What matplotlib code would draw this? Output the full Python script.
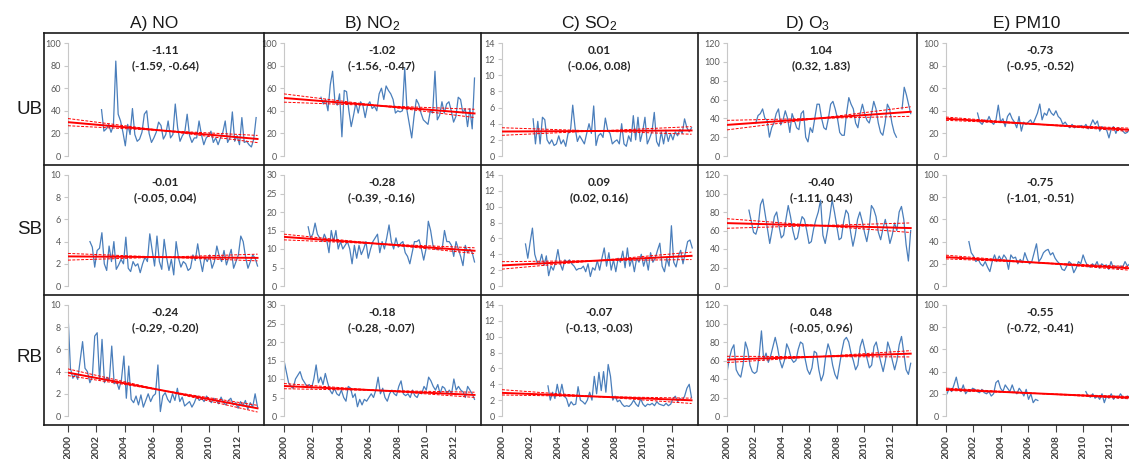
import numpy as np
import matplotlib
matplotlib.use("Agg")
import matplotlib.pyplot as plt
from matplotlib.lines import Line2D

plt.rcParams["font.family"] = ["Liberation Sans", "DejaVu Sans"]
plt.rcParams["mathtext.fontset"] = "custom"
plt.rcParams["mathtext.rm"] = "Liberation Sans"
plt.rcParams["mathtext.default"] = "regular"

# ---- data (monthly-ish means) ----
pollutants = ["A) NO", r"B) NO$_2$", r"C) SO$_2$", r"D) O$_3$", "E) PM10"]
sites = ["UB", "SB", "RB"]

# y-axis maximum and tick step per site row x pollutant column
y_max = [[100, 100, 14, 120, 100],
         [10, 30, 14, 120, 100],
         [10, 30, 14, 120, 100]]
y_step = [[20, 20, 2, 20, 20],
          [2, 5, 2, 20, 20],
          [2, 5, 2, 20, 20]]

# Theil-Sen slope (units/year) with 95% interval
slope = [[-1.11, -1.02, 0.01, 1.04, -0.73],
         [-0.01, -0.28, 0.09, -0.40, -0.75],
         [-0.24, -0.18, -0.07, 0.48, -0.55]]
slope_lo = [[-1.59, -1.56, -0.06, 0.32, -0.95],
            [-0.05, -0.39, 0.02, -1.11, -1.01],
            [-0.29, -0.28, -0.13, -0.05, -0.72]]
slope_hi = [[-0.64, -0.47, 0.08, 1.83, -0.52],
            [0.04, -0.16, 0.16, 0.43, -0.51],
            [-0.20, -0.07, -0.03, 0.96, -0.41]]
# trend value at the middle of the trend period
trend_mid = [[22.5, 44.5, 3.1, 40.0, 28.1],
             [2.6, 11.4, 3.2, 65.3, 21.0],
             [2.3, 6.9, 2.45, 64.2, 20.3]]
trend_span = (2000.0, 2013.4)

no_ub_span = (2002.37, 2013.3)
no_ub = [41, 22, 24, 28, 21, 27, 84, 37, 31, 21, 9, 28, 19, 42, 19, 13, 15, 21, 37, 40,
         20, 12, 16, 21, 30, 27, 15, 19, 31, 16, 19, 46, 25, 13, 18, 21, 37, 18, 12, 16,
         16, 31, 19, 10, 16, 18, 22, 12, 16, 10, 16, 21, 31, 12, 16, 39, 13, 18, 10, 34,
         12, 13, 10, 8, 15, 34]
no_sb_span = (2001.55, 2013.4)
no_sb = [4.0, 3.5, 1.7, 3.2, 3.4, 4.8, 2.0, 1.4, 3.6, 2.2, 4.0, 1.5, 1.9, 2.4, 2.0, 4.4,
         1.6, 1.3, 2.2, 1.8, 2.0, 1.2, 2.0, 2.6, 2.2, 4.7, 3.2, 1.8, 4.5, 2.2, 1.5, 4.2,
         2.6, 1.4, 2.4, 1.0, 4.0, 2.5, 1.7, 2.2, 2.0, 1.4, 1.6, 2.8, 2.3, 3.8, 2.4, 1.3,
         2.6, 2.2, 2.8, 1.6, 2.2, 3.6, 2.7, 2.2, 3.2, 1.9, 2.6, 3.3, 1.6, 2.2, 2.8, 4.5,
         4.0, 2.6, 1.6, 2.2, 2.8, 2.5, 1.8]
no_rb_span = (2000.0, 2013.4)
no_rb = [9.2, 4.3, 3.4, 3.8, 3.3, 5.0, 6.7, 4.3, 4.0, 3.0, 3.5, 7.2, 7.5, 3.2, 6.9, 3.0,
         3.5, 3.2, 6.3, 2.9, 3.1, 2.4, 3.3, 5.4, 1.6, 4.5, 1.5, 1.2, 1.8, 1.0, 1.9, 0.8,
         1.4, 2.0, 1.3, 1.8, 2.0, 4.6, 0.4, 1.8, 2.1, 1.5, 1.2, 2.0, 1.4, 2.5, 1.3, 1.7,
         0.9, 1.1, 1.3, 0.8, 1.2, 1.8, 1.4, 1.6, 1.3, 1.8, 1.5, 1.2, 1.6, 1.4, 1.1, 1.7,
         1.2, 1.0, 1.4, 1.6, 1.0, 1.2, 0.7, 1.3, 0.9, 1.4, 0.6, 1.2, 0.8, 2.0, 0.8]

no2_ub_span = (2002.6, 2013.4)
no2_ub = [52, 46, 50, 40, 63, 75, 48, 45, 55, 17, 58, 57, 40, 26, 36, 47, 38, 48, 45, 34,
          45, 48, 42, 44, 40, 55, 60, 50, 62, 58, 55, 50, 38, 40, 39, 40, 78, 40, 28, 16,
          35, 50, 46, 38, 32, 30, 28, 40, 38, 75, 32, 36, 48, 38, 46, 48, 40, 30, 35, 52,
          50, 38, 42, 26, 42, 24, 69]
no2_sb_span = (2001.7, 2013.4)
no2_sb = [16, 13, 14, 17, 14, 13, 12, 14, 12.5, 9, 15, 12, 15, 10, 12, 10, 11, 12, 10, 6,
          11, 7.5, 11, 8.5, 10, 12, 7.5, 10, 12, 13, 14, 9, 12, 10, 13, 16.5, 12, 10, 13,
          10.5, 11.5, 12, 9, 8, 6, 9, 12, 12, 12.5, 10, 7, 10, 17.5, 15, 11, 10, 10, 10,
          10, 15, 12, 12, 11, 8, 12, 10, 8, 5.5, 11, 9, 10, 9, 6.5]
no2_rb_span = (2000.0, 2013.4)
no2_rb = [15, 12, 9, 8, 7.5, 10, 11, 12, 10, 9, 8, 8.5, 7.5, 10, 13.8, 9, 10.5, 8.5, 11.5,
          9, 7, 6, 7.5, 6, 5.5, 7, 5, 4, 8, 7.5, 5, 6, 2.5, 4.5, 3, 4.5, 4, 5, 6, 5, 7,
          10.5, 6, 7.5, 5, 4, 6, 7, 6, 5.5, 8, 9.5, 6, 5.5, 6, 5, 7, 5.5, 5, 6.5, 6, 8, 7,
          10.5, 9.5, 8, 7, 8.5, 6, 8, 7.5, 6, 7, 6, 10, 7, 8, 7, 6.5, 5, 8, 7, 6, 4.5]

so2_ub_span = (2002.2, 2013.4)
so2_ub = [4.6, 1.5, 4.3, 1.5, 4.8, 4.5, 2.0, 1.5, 2.0, 1.3, 1.5, 2.5, 1.5, 2.0, 1.2, 2.8,
          3.0, 6.3, 3.5, 1.8, 2.5, 2.0, 1.5, 2.8, 4.0, 2.8, 6.2, 1.3, 2.5, 2.8, 2.3, 4.7,
          3.2, 2.8, 1.5, 1.8, 2.0, 1.5, 4.0, 1.5, 1.2, 2.5, 1.8, 5.0, 2.0, 4.8, 1.8, 3.0,
          4.8, 1.5, 2.2, 3.0, 5.4, 1.8, 1.2, 3.0, 1.5, 3.2, 1.8, 2.8, 2.0, 3.0, 2.5, 3.3,
          2.8, 4.6, 3.5, 3.0, 3.5]
so2_sb_span = (2001.66, 2013.45)
so2_sb = [5.3, 3.5, 5.5, 7.3, 4.0, 3.0, 2.8, 4.0, 2.6, 3.8, 1.3, 2.5, 2.0, 3.0, 4.6, 2.8,
          2.0, 3.3, 3.0, 3.3, 2.8, 2.5, 2.0, 2.2, 2.2, 2.5, 1.8, 2.8, 1.2, 2.3, 2.0, 3.2,
          2.0, 3.5, 4.8, 2.5, 4.2, 2.0, 3.3, 1.8, 3.5, 3.0, 4.4, 2.3, 4.8, 2.5, 3.5, 1.8,
          3.5, 3.0, 4.0, 2.5, 3.6, 2.0, 4.2, 3.0, 3.5, 4.5, 5.4, 2.5, 1.8, 3.5, 2.5, 7.6,
          3.0, 2.4, 3.8, 4.5, 2.8, 4.2, 5.6, 5.8, 4.8]
so2_rb_span = (2003.25, 2013.4)
so2_rb = [3.8, 2.0, 3.0, 2.2, 4.0, 2.5, 4.0, 2.5, 2.2, 1.2, 1.8, 1.4, 1.5, 3.7, 2.0, 1.8,
          1.5, 2.0, 3.0, 2.0, 5.0, 2.8, 5.5, 3.2, 5.6, 3.0, 6.5, 5.0, 2.0, 2.5, 1.8, 2.0,
          1.5, 1.2, 1.3, 1.2, 1.5, 2.0, 1.5, 1.2, 2.2, 1.5, 1.2, 1.5, 1.4, 1.6, 1.3, 1.8,
          1.5, 1.4, 1.3, 1.6, 1.3, 1.5, 2.2, 2.5, 1.8, 2.2, 2.0, 2.5, 3.5, 4.0, 2.3]

o3_ub_span = (2002.1, 2012.36)
o3_ub = [35, 43, 45, 50, 40, 38, 20, 30, 35, 45, 50, 33, 38, 48, 40, 25, 45, 38, 30, 28,
         45, 48, 20, 15, 30, 25, 40, 55, 55, 40, 30, 28, 40, 55, 58, 50, 40, 25, 22, 22,
         45, 62, 55, 50, 35, 30, 45, 55, 45, 38, 35, 45, 58, 50, 35, 25, 22, 35, 55, 50,
         35, 25, 20]
o3_ub_end_span = (2012.77, 2013.4)
o3_ub_end = [50, 73, 65, 55, 45]
o3_sb_span = (2001.6, 2013.4)
o3_sb = [82, 70, 58, 56, 65, 88, 94, 78, 62, 46, 60, 75, 80, 65, 52, 55, 72, 87, 75, 60,
         50, 52, 65, 75, 72, 60, 46, 48, 62, 72, 80, 93, 55, 46, 60, 75, 93, 80, 65, 50,
         52, 70, 82, 78, 58, 43, 55, 72, 80, 70, 58, 48, 62, 87, 83, 75, 58, 50, 62, 72,
         60, 46, 55, 68, 60, 80, 86, 72, 45, 27, 60]
o3_rb_span = (2000.0, 2013.4)
o3_rb = [47, 62, 72, 77, 50, 45, 42, 55, 80, 72, 55, 48, 46, 48, 65, 92, 60, 68, 58, 65,
         75, 85, 74, 60, 52, 60, 78, 72, 62, 58, 60, 72, 80, 78, 62, 50, 45, 52, 70, 68,
         50, 38, 45, 65, 78, 70, 55, 45, 40, 55, 70, 82, 85, 80, 68, 60, 50, 55, 75, 83,
         72, 62, 52, 55, 75, 80, 68, 58, 48, 60, 80, 72, 60, 50, 60, 77, 86, 68, 50, 45, 57]

pm10_ub_span = (2002.3, 2013.4)
pm10_ub = [38, 30, 28, 32, 30, 35, 30, 28, 32, 45, 30, 33, 26, 35, 38, 33, 30, 25, 35, 22,
           30, 28, 30, 32, 28, 33, 38, 46, 32, 38, 36, 42, 38, 36, 40, 35, 33, 28, 30, 27,
           25, 28, 25, 26, 26, 27, 25, 28, 24, 27, 32, 28, 31, 22, 26, 24, 23, 16, 24, 26,
           20, 25, 24, 22, 20, 21, 24]
pm10_sb_span = (2001.67, 2013.4)
pm10_sb = [40, 30, 27, 22, 24, 20, 18, 22, 17, 13, 22, 28, 22, 27, 23, 28, 25, 15, 28, 25,
           26, 20, 24, 21, 30, 24, 20, 22, 30, 38, 22, 25, 30, 32, 33, 28, 30, 25, 22, 20,
           15, 14, 18, 22, 20, 12, 16, 22, 20, 28, 22, 18, 17, 20, 18, 22, 16, 20, 18, 19,
           15, 22, 16, 18, 15, 18, 17, 22, 18, 20]
pm10_rb_span = (2000.07, 2006.7)
pm10_rb = [20, 25, 22, 28, 35, 25, 22, 28, 20, 23, 22, 25, 24, 22, 21, 24, 21, 20, 22, 18,
           20, 30, 32, 25, 22, 28, 25, 22, 28, 22, 20, 25, 22, 18, 24, 15, 20, 12, 15, 14]
pm10_rb_end_span = (2010.2, 2013.4)
pm10_rb_end = [22, 18, 17, 20, 16, 18, 15, 20, 12, 18, 16, 20, 15, 18, 16, 20, 17, 16, 18, 17]

series = {
    (0, 0): [(no_ub_span, no_ub)], (1, 0): [(no_sb_span, no_sb)], (2, 0): [(no_rb_span, no_rb)],
    (0, 1): [(no2_ub_span, no2_ub)], (1, 1): [(no2_sb_span, no2_sb)], (2, 1): [(no2_rb_span, no2_rb)],
    (0, 2): [(so2_ub_span, so2_ub)], (1, 2): [(so2_sb_span, so2_sb)], (2, 2): [(so2_rb_span, so2_rb)],
    (0, 3): [(o3_ub_span, o3_ub), (o3_ub_end_span, o3_ub_end)],
    (1, 3): [(o3_sb_span, o3_sb)], (2, 3): [(o3_rb_span, o3_rb)],
    (0, 4): [(pm10_ub_span, pm10_ub)], (1, 4): [(pm10_sb_span, pm10_sb)],
    (2, 4): [(pm10_rb_span, pm10_rb), (pm10_rb_end_span, pm10_rb_end)],
}

# ---- layout (pixels) ----
W, H = 1129, 459
col_edges = [44, 264, 481, 698, 917, 1136]
row_edges = [33, 165, 295, 425]
axis_x = [68, 284, 502, 727, 946]
pad_top, pad_bot = 10, 9
px2pt = 0.72

fig = plt.figure(figsize=(W / 100, H / 100), dpi=100)


def fx(px):
    return px / W


def fy(py):
    return 1 - py / H


BLUE = "#4a7ebb"
RED = "#ff0000"

for r in range(3):
    for c in range(5):
        left, right = axis_x[c], col_edges[c + 1] - 1.5
        top, bot = row_edges[r], row_edges[r + 1]
        ax = fig.add_axes([fx(left), fy(bot), (right - left) / W, (bot - top) / H])
        ax.set_facecolor("none")
        ymax = y_max[r][c]
        u = ymax / (bot - top - pad_top - pad_bot)
        ax.set_ylim(-pad_bot * u, ymax + pad_top * u)
        ax.set_xlim(2000, 2013.75)

        for (t0, t1), vals in series[(r, c)]:
            t = np.linspace(t0, t1, len(vals))
            ax.plot(t, vals, color=BLUE, lw=0.9, zorder=2)

        tx = np.array(trend_span)
        pivot = tx.mean()
        for s in (slope_lo[r][c], slope_hi[r][c]):
            ax.plot(tx, trend_mid[r][c] + s * (tx - pivot), color=RED, lw=0.7,
                    ls=(0, (3, 1.5)), zorder=3)
        ax.plot(tx, trend_mid[r][c] + slope[r][c] * (tx - pivot), color=RED, lw=1.4, zorder=4)

        for side in ("top", "right", "bottom"):
            ax.spines[side].set_visible(False)
        ax.spines["left"].set_color("#c8c8c8")
        ax.spines["left"].set_linewidth(0.8)
        ax.spines["left"].set_bounds(0, ymax)
        ax.set_yticks(np.arange(0, ymax + y_step[r][c] / 2, y_step[r][c]))
        ax.tick_params(axis="y", length=3, width=0.8, color="#c8c8c8", pad=2,
                       labelsize=6.5, labelcolor="#595959")
        for lab in ax.get_yticklabels():
            lab.set_family("Lato")

        if r == 2:
            ax.set_xticks(range(2000, 2013, 2))
            ax.tick_params(axis="x", length=5, width=0.8, color="#404040", pad=2,
                           labelsize=7.5, labelcolor="#404040", labelrotation=90)
            for lab in ax.get_xticklabels():
                lab.set_family("Lato")
                lab.set_fontweight("bold")
        else:
            ax.set_xticks([])

        ax.annotate(f"{slope[r][c]:.2f}", xy=(0.5, 1), xycoords="axes fraction",
                    xytext=(0, -17.5 * px2pt), textcoords="offset points",
                    ha="center", va="center", fontsize=8.5, fontweight="bold",
                    family="Lato", color="#262626")
        ax.annotate(f"({slope_lo[r][c]:.2f}, {slope_hi[r][c]:.2f})", xy=(0.5, 1),
                    xycoords="axes fraction", xytext=(0, -32.5 * px2pt),
                    textcoords="offset points", ha="center", va="center",
                    fontsize=8.5, fontweight="bold", family="Lato", color="#262626")

# panel grid
for y in row_edges:
    fig.add_artist(Line2D([fx(col_edges[0]), 1], [fy(y), fy(y)], color="#1a1a1a",
                          lw=1.2, transform=fig.transFigure))
for x in col_edges[:5]:
    fig.add_artist(Line2D([fx(x), fx(x)], [fy(row_edges[0]), fy(row_edges[-1])],
                          color="#1a1a1a", lw=1.2, transform=fig.transFigure))

for c, name in enumerate(pollutants):
    cx = (col_edges[c] + col_edges[c + 1]) / 2
    fig.text(fx(cx), fy(28), name, ha="center", va="baseline", fontsize=12.5, color="#1a1a1a")

for name, ypx in zip(sites, [110, 230, 357]):
    fig.text(fx(30), fy(ypx), name, ha="center", va="center", fontsize=13.5, color="#1a1a1a")

fig.savefig("out.png", dpi=100)
